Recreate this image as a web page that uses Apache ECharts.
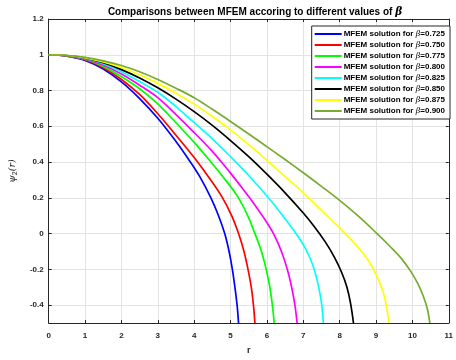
<!DOCTYPE html>
<html>
<head>
<meta charset="utf-8">
<script src="https://cdn.jsdelivr.net/npm/echarts@6/dist/echarts.min.js"></script>
<style>
  html, body { margin: 0; padding: 0; background: #fff; }
  #chart { width: 456px; height: 360px; }
</style>
</head>
<body>
<div id="chart"></div>
<script>
// beta values, one curve each
const betas = ["0.725", "0.750", "0.775", "0.800", "0.825", "0.850", "0.875", "0.900"];
const colors = ["#0000ff", "#ff0000", "#00ff00", "#ff00ff", "#00ffff", "#000000", "#ffff00", "#77ac30"];

// [r, psi]
const beta725 = [[0,1],[0.5,0.992],[1,0.968],[1.5,0.92],[2,0.848],[2.5,0.755],[3,0.645],[3.5,0.515],[3.83,0.42],[4.15,0.32],[4.46,0.2],[4.67,0.1],[4.84,0],[4.96,-0.1],[5.05,-0.2],[5.12,-0.3],[5.18,-0.4],[5.22,-0.5]];
const beta750 = [[0,1],[0.5,0.993],[1,0.972],[1.5,0.928],[2,0.862],[2.5,0.778],[3,0.67],[3.5,0.55],[4,0.425],[4.4,0.315],[4.78,0.2],[5.03,0.1],[5.22,0],[5.37,-0.1],[5.48,-0.2],[5.57,-0.3],[5.63,-0.4],[5.67,-0.5]];
const beta775 = [[0,1],[0.5,0.994],[1,0.975],[1.5,0.935],[2,0.877],[2.5,0.81],[3,0.725],[3.5,0.62],[4,0.51],[4.42,0.41],[4.8,0.315],[5.17,0.215],[5.45,0.11],[5.67,0],[5.85,-0.1],[5.98,-0.2],[6.08,-0.3],[6.15,-0.4],[6.2,-0.5]];
const beta800 = [[0,1],[0.5,0.994],[1,0.977],[1.5,0.943],[2,0.892],[2.5,0.83],[3,0.76],[3.5,0.665],[4,0.565],[4.5,0.46],[4.75,0.4],[5,0.338],[5.3,0.26],[5.6,0.18],[5.9,0.092],[6.18,0],[6.4,-0.1],[6.56,-0.2],[6.68,-0.3],[6.77,-0.4],[6.83,-0.5]];
const beta825 = [[0,1],[0.5,0.995],[1,0.979],[1.5,0.95],[2,0.905],[2.5,0.85],[3,0.79],[3.5,0.71],[4,0.62],[4.5,0.53],[5,0.43],[5.5,0.325],[6,0.21],[6.4,0.11],[6.8,0],[7.05,-0.08],[7.25,-0.17],[7.38,-0.26],[7.47,-0.35],[7.52,-0.42],[7.55,-0.5]];
const beta850 = [[0,1],[0.5,0.995],[1,0.981],[1.5,0.955],[2,0.917],[2.5,0.87],[3,0.815],[3.5,0.752],[4,0.682],[4.5,0.605],[5,0.52],[5.5,0.43],[6,0.332],[6.5,0.228],[7,0.115],[7.3,0.04],[7.6,-0.045],[7.85,-0.13],[8.05,-0.215],[8.2,-0.3],[8.3,-0.39],[8.38,-0.5]];
const beta875 = [[0,1],[0.5,0.996],[1,0.983],[1.5,0.96],[2,0.929],[2.5,0.888],[3,0.84],[3.5,0.785],[4,0.724],[4.5,0.655],[5,0.58],[5.5,0.497],[6,0.41],[6.5,0.318],[7,0.228],[7.5,0.13],[8,0.03],[8.5,-0.075],[8.8,-0.155],[9.05,-0.25],[9.2,-0.33],[9.3,-0.42],[9.35,-0.5]];
const beta900 = [[0,1],[0.5,0.996],[1,0.985],[1.5,0.966],[2,0.94],[2.5,0.905],[3,0.862],[3.5,0.813],[4,0.76],[4.5,0.695],[5,0.627],[5.5,0.557],[6,0.486],[6.5,0.414],[7,0.34],[7.5,0.264],[8,0.186],[8.5,0.1],[9,0.005],[9.4,-0.075],[9.7,-0.14],[9.95,-0.21],[10.15,-0.28],[10.3,-0.35],[10.41,-0.42],[10.48,-0.5]];
const curves = [beta725, beta750, beta775, beta800, beta825, beta850, beta875, beta900];

const yTicks = [-0.4, -0.2, 0, 0.2, 0.4, 0.6, 0.8, 1, 1.2];

const font = "Liberation Sans, Arial, Helvetica, sans-serif";
const ink = "#262626";

const chart = echarts.init(document.getElementById("chart"));

const seriesData = curves.map((pts, i) => ({
  name: betas[i],
  type: "line",
  data: pts,
  xAxisIndex: 0,
  yAxisIndex: 0,
  smooth: 0.35,
  symbol: "none",
  clip: true,
  lineStyle: { color: colors[i], width: 1.7 },
  itemStyle: { color: colors[i] }
}));

chart.setOption({
  animation: false,
  backgroundColor: "#fff",
  title: {
    text: "{a|Comparisons between MFEM accoring to different values of }{b|β}",
    left: 250,
    textAlign: "center",
    top: 2,
    textStyle: {
      rich: {
        a: { fontFamily: font, fontWeight: "bold", fontSize: 10, color: "#000" },
        b: { fontFamily: "DejaVu Serif, serif", fontStyle: "italic", fontSize: 10.5, color: "#000" }
      }
    }
  },
  legend: {
    orient: "vertical",
    right: 6,
    top: 26,
    align: "left",
    icon: "rect",
    itemWidth: 27,
    itemHeight: 2,
    itemGap: 3,
    padding: [4, 5, 4, 3],
    backgroundColor: "#fff",
    borderColor: ink,
    borderWidth: 1,
    data: betas,
    formatter: (name) => `{a|MFEM solution for }{b|β}{a|=${name}}`,
    textStyle: {
      padding: [0, 0, 0, -3],
      rich: {
        a: { fontFamily: font, fontWeight: "bold", fontSize: 8, lineHeight: 9, color: "#000" },
        b: { fontFamily: "DejaVu Serif, serif", fontStyle: "italic", fontSize: 8, lineHeight: 9, color: "#000" }
      }
    }
  },
  grid: { left: 45, right: 3, top: 19, bottom: 30 },
  xAxis: [
    {
      type: "value",
      min: 0,
      max: 11,
      interval: 1,
      name: "r",
      nameLocation: "middle",
      nameGap: 23,
      nameTextStyle: { fontFamily: font, fontWeight: "bold", fontSize: 9, color: ink },
      axisLine: { show: true, onZero: false, lineStyle: { color: ink, width: 1 } },
      axisTick: { show: true, inside: true, length: 3, lineStyle: { color: ink } },
      axisLabel: { fontFamily: font, fontWeight: "bold", fontSize: 8, color: ink, margin: 9 },
      splitLine: { show: true, lineStyle: { color: "#e3e3e3", width: 1 } }
    },
    {
      type: "value",
      position: "top",
      min: 0,
      max: 11,
      interval: 1,
      axisLine: { show: true, onZero: false, lineStyle: { color: ink, width: 1 } },
      axisTick: { show: true, inside: true, length: 3, lineStyle: { color: ink } },
      axisLabel: { show: false },
      splitLine: { show: false }
    }
  ],
  yAxis: [
    {
      type: "value",
      min: -0.5,
      max: 1.2,
      name: "{a|ψ}{s|2}{a|(r)}",
      nameLocation: "middle",
      nameGap: 19,
      nameTextStyle: {
        rich: {
          a: { fontFamily: "DejaVu Serif, serif", fontStyle: "italic", fontSize: 9.5, color: ink },
          s: { fontFamily: font, fontSize: 7, color: ink, padding: [5, 0, 0, 0] }
        }
      },
      axisLine: { show: true, onZero: false, lineStyle: { color: ink, width: 1 } },
      axisTick: { show: true, inside: true, length: 3, lineStyle: { color: ink }, customValues: yTicks },
      axisLabel: {
        fontFamily: font, fontWeight: "bold", fontSize: 8, color: ink, margin: 5,
        customValues: yTicks,
        formatter: (v) => String(parseFloat(v.toFixed(1)))
      },
      splitLine: { show: true, lineStyle: { color: "#e3e3e3", width: 1 } }
    },
    {
      type: "value",
      position: "right",
      min: -0.5,
      max: 1.2,
      axisLine: { show: true, onZero: false, lineStyle: { color: ink, width: 1 } },
      axisTick: { show: true, inside: true, length: 3, lineStyle: { color: ink }, customValues: yTicks },
      axisLabel: { show: false },
      splitLine: { show: false }
    }
  ],
  series: seriesData
});
</script>
</body>
</html>
